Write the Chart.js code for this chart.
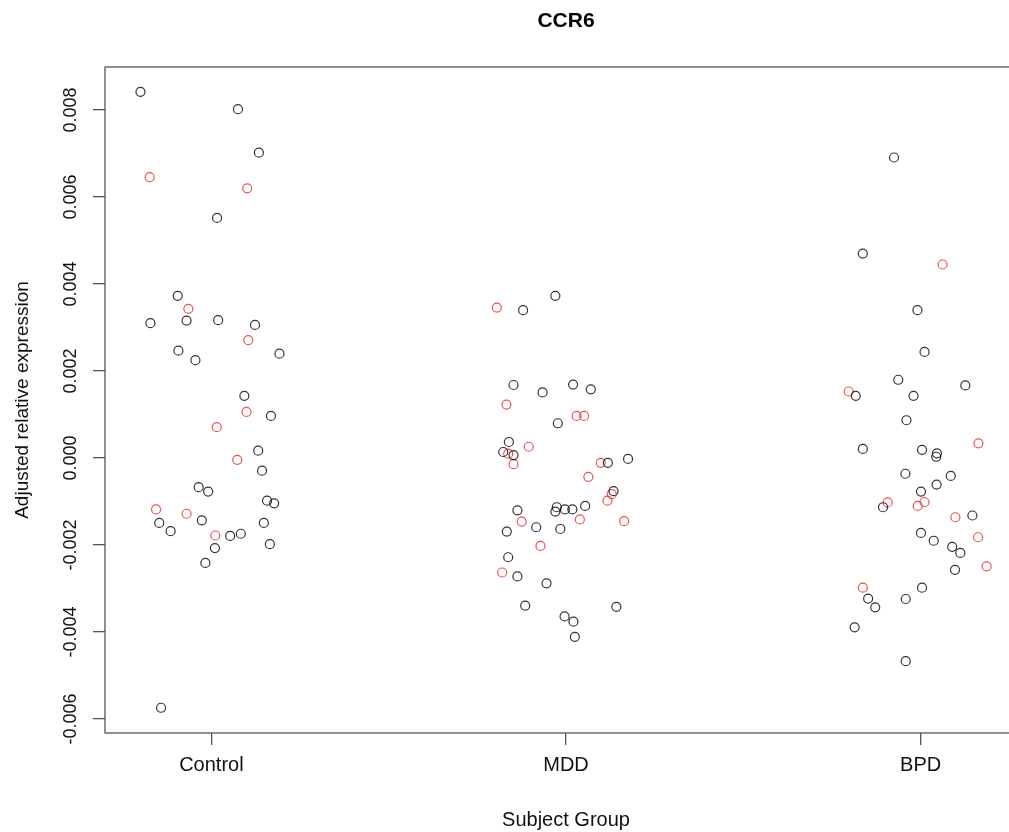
<!DOCTYPE html>
<html>
<head>
<meta charset="utf-8">
<script src="https://cdn.jsdelivr.net/npm/chart.js@4.4.1/dist/chart.umd.min.js"></script>
<style>
  html, body { margin: 0; padding: 0; overflow: hidden; background: #fff; }
  #ccr6Chart { display: block; }
</style>
</head>
<body>
<canvas id="ccr6Chart" width="1040" height="832"></canvas>
<script>
const groups = ['Control', 'MDD', 'BPD'];
const yTickValues = [-0.006, -0.004, -0.002, 0, 0.002, 0.004, 0.006, 0.008];

// horizontal jitter from the group centre + adjusted relative expression
const controlBlackJitter = [-0.200, 0.075, 0.134, 0.016, -0.095, -0.172, -0.070, 0.019, 0.123, -0.093, -0.045, 0.192, 0.093, 0.168, 0.132, 0.143, -0.036, -0.009, 0.157, 0.177, -0.147, -0.115, -0.027, 0.053, 0.083, 0.148, 0.165, 0.010, -0.017, -0.142];
const controlBlackValues = [0.00842, 0.00802, 0.00702, 0.00552, 0.00373, 0.00310, 0.00316, 0.00317, 0.00306, 0.00247, 0.00225, 0.00240, 0.00143, 0.00097, 0.00017, -0.00029, -0.00067, -0.00077, -0.00098, -0.00104, -0.00149, -0.00168, -0.00143, -0.00179, -0.00174, -0.00149, -0.00198, -0.00207, -0.00241, -0.00574];
const controlRedJitter = [-0.174, 0.101, -0.065, 0.104, 0.099, 0.015, 0.073, -0.156, -0.070, 0.011];
const controlRedValues = [0.00646, 0.00620, 0.00343, 0.00271, 0.00106, 0.00071, -0.00004, -0.00118, -0.00128, -0.00178];

const mddBlackJitter = [-0.030, -0.121, -0.148, -0.066, 0.020, 0.070, -0.023, -0.161, -0.177, -0.148, 0.118, 0.175, 0.134, -0.137, -0.026, -0.030, -0.003, 0.018, 0.054, -0.167, -0.084, -0.016, -0.163, -0.137, -0.055, -0.115, 0.142, -0.004, 0.021, 0.025];
const mddBlackValues = [0.00373, 0.00340, 0.00168, 0.00151, 0.00169, 0.00158, 0.00080, 0.00037, 0.00014, 0.00007, -0.00011, -0.00002, -0.00076, -0.00120, -0.00113, -0.00123, -0.00118, -0.00118, -0.00110, -0.00169, -0.00159, -0.00163, -0.00228, -0.00272, -0.00288, -0.00339, -0.00342, -0.00364, -0.00376, -0.00411];
const mddRedJitter = [-0.195, -0.168, 0.030, 0.051, -0.105, -0.163, -0.148, 0.098, 0.063, 0.129, 0.117, -0.125, 0.039, 0.164, -0.072, -0.180];
const mddRedValues = [0.00346, 0.00123, 0.00097, 0.00097, 0.00026, 0.00010, -0.00014, -0.00011, -0.00043, -0.00083, -0.00098, -0.00146, -0.00141, -0.00145, -0.00202, -0.00263];

const bpdBlackJitter = [-0.075, -0.163, -0.009, 0.011, -0.063, 0.126, -0.183, -0.020, -0.040, -0.163, 0.004, 0.046, 0.044, -0.043, 0.085, 0.045, 0.001, -0.106, 0.146, 0.001, 0.037, 0.089, 0.112, 0.097, 0.004, -0.148, -0.128, -0.042, -0.186, -0.042];
const bpdBlackValues = [0.00691, 0.00470, 0.00340, 0.00244, 0.00180, 0.00167, 0.00143, 0.00143, 0.00087, 0.00021, 0.00019, 0.00011, 0.00003, -0.00036, -0.00041, -0.00061, -0.00077, -0.00113, -0.00132, -0.00172, -0.00190, -0.00204, -0.00218, -0.00257, -0.00298, -0.00323, -0.00343, -0.00324, -0.00389, -0.00467];
const bpdRedJitter = [0.062, -0.203, 0.163, -0.093, 0.011, -0.008, 0.098, 0.162, 0.186, -0.163];
const bpdRedValues = [0.00445, 0.00153, 0.00034, -0.00102, -0.00101, -0.00110, -0.00136, -0.00182, -0.00249, -0.00298];

function toPoints(groupIndex, jitter, values) {
    return values.map((v, i) => ({ x: groupIndex + 1 + jitter[i], y: v }));
}

const blackPoints = [].concat(
    toPoints(0, controlBlackJitter, controlBlackValues),
    toPoints(1, mddBlackJitter, mddBlackValues),
    toPoints(2, bpdBlackJitter, bpdBlackValues)
);
const redPoints = [].concat(
    toPoints(0, controlRedJitter, controlRedValues),
    toPoints(1, mddRedJitter, mddRedValues),
    toPoints(2, bpdRedJitter, bpdRedValues)
);

const fontFamily = '"Liberation Sans", Arial, Helvetica, sans-serif';
const axisColor = '#555';

// box, main title and rotated y labels, R style
const rFrame = {
    id: 'rFrame',
    afterDraw(chart) {
        const { ctx, chartArea: a, scales } = chart;
        ctx.save();
        ctx.strokeStyle = axisColor;
        ctx.lineWidth = 1.3;
        ctx.strokeRect(a.left, a.top, a.right - a.left, a.bottom - a.top);

        ctx.fillStyle = '#000';
        ctx.font = 'bold 21px ' + fontFamily;
        ctx.textAlign = 'center';
        ctx.textBaseline = 'middle';
        ctx.fillText('CCR6', (a.left + a.right) / 2, 21);

        ctx.fillStyle = '#111';
        ctx.font = '18px ' + fontFamily;
        ctx.textBaseline = 'alphabetic';
        scales.y.ticks.forEach(t => {
            const py = scales.y.getPixelForValue(t.value);
            ctx.save();
            ctx.translate(76, py);
            ctx.rotate(-Math.PI / 2);
            ctx.fillText(t.value.toFixed(3), 0, 0);
            ctx.restore();
        });
        ctx.restore();
    }
};

new Chart(document.getElementById('ccr6Chart'), {
    type: 'scatter',
    data: {
        datasets: [{
            label: 'black',
            data: blackPoints,
            pointStyle: 'circle',
            pointRadius: 4.5,
            borderWidth: 1.2,
            borderColor: 'rgba(0, 0, 0, 0.8)',
            backgroundColor: 'rgba(0, 0, 0, 0)'
        }, {
            label: 'red',
            data: redPoints,
            pointStyle: 'circle',
            pointRadius: 4.5,
            borderWidth: 1.2,
            borderColor: 'rgba(240, 50, 50, 0.85)',
            backgroundColor: 'rgba(0, 0, 0, 0)'
        }]
    },
    options: {
        responsive: false,
        animation: false,
        events: [],
        layout: { padding: { top: 67, right: 13, bottom: 0, left: 0 } },
        plugins: { legend: { display: false }, tooltip: { enabled: false } },
        scales: {
            x: {
                type: 'linear',
                min: 0.7,
                max: 3.3,
                afterBuildTicks: s => { s.ticks = groups.map((_, i) => ({ value: i + 1 })); },
                afterFit: s => { s.height = 99; },
                ticks: {
                    callback: v => groups[v - 1],
                    font: { family: fontFamily, size: 20 },
                    color: '#111',
                    padding: 8,
                    maxRotation: 0,
                    autoSkip: false
                },
                grid: { drawOnChartArea: false, drawTicks: true, tickLength: 12, color: axisColor, lineWidth: 1.3 },
                border: { display: false },
                title: {
                    display: true,
                    text: 'Subject Group',
                    font: { family: fontFamily, size: 20 },
                    color: '#111',
                    padding: { top: 0, bottom: 0 }
                }
            },
            y: {
                type: 'linear',
                min: -0.00632,
                max: 0.00899,
                afterBuildTicks: s => { s.ticks = yTickValues.map(v => ({ value: v })); },
                afterFit: s => { s.width = 105; },
                ticks: { display: false },
                grid: { drawOnChartArea: false, drawTicks: true, tickLength: 12, color: axisColor, lineWidth: 1.3 },
                border: { display: false },
                title: {
                    display: true,
                    text: 'Adjusted relative expression',
                    font: { family: fontFamily, size: 19 },
                    color: '#111',
                    padding: { top: 11, bottom: 0 }
                }
            }
        }
    },
    plugins: [rFrame]
});
</script>
</body>
</html>
